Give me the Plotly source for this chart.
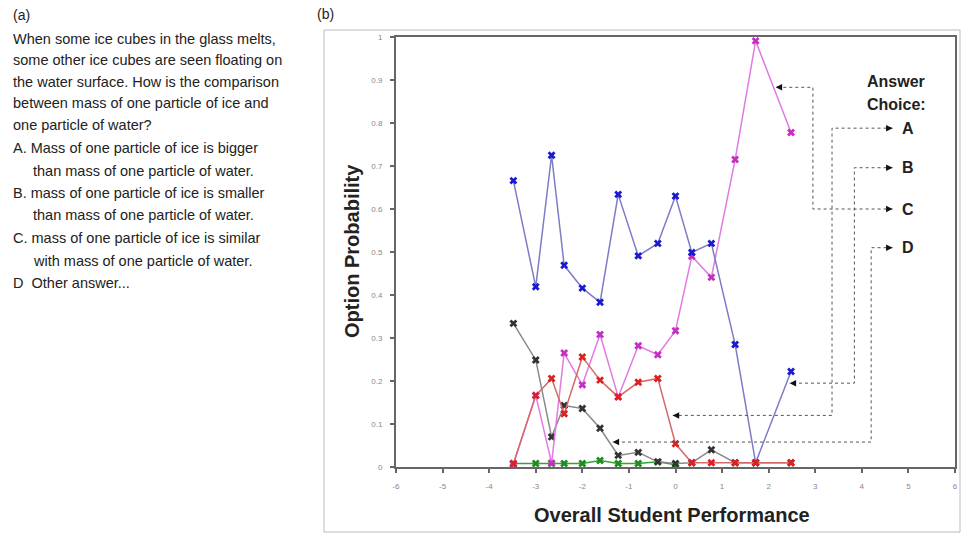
import plotly.graph_objects as go

# ---------------- data ----------------
x_perf = [-3.48, -3.0, -2.66, -2.39, -2.0, -1.62, -1.23, -0.8, -0.38, 0.0, 0.35, 0.77, 1.28, 1.72, 2.48]
opt_B = [0.666, 0.419, 0.725, 0.469, 0.416, 0.383, 0.634, 0.491, 0.520, 0.630, 0.499, 0.520, 0.285, 0.01, 0.222]
opt_C = [0.006, 0.167, 0.009, 0.265, 0.191, 0.308, 0.163, 0.282, 0.261, 0.317, 0.49, 0.441, 0.715, 0.991, 0.778]
opt_A = [0.008, 0.166, 0.206, 0.124, 0.256, 0.202, 0.163, 0.197, 0.206, 0.054, 0.01, 0.01, 0.01, 0.01, 0.01]
opt_D = [0.334, 0.249, 0.070, 0.143, 0.136, 0.090, 0.027, 0.034, 0.012, 0.008, 0.01, 0.040, 0.01, 0.01, 0.01]
opt_other = [0.008, 0.008, 0.008, 0.008, 0.008, 0.015, 0.008, 0.008, 0.012, 0.005]

x_ticks = [-6, -5, -4, -3, -2, -1, 0, 1, 2, 3, 4, 5, 6]
x_ticklabels = ["-6", "-5", "-4", "-3", "-2", "-1", "0", "1", "2", "3", "4", "5", "6"]
y_ticks = [0, 0.1, 0.2, 0.3, 0.4, 0.5, 0.6, 0.7, 0.8, 0.9, 1]
y_ticklabels = ["0", "0.1", "0.2", "0.3", "0.4", "0.5", "0.6", "0.7", "0.8", "0.9", "1"]

question_lines = [
    "When some ice cubes in the glass melts,",
    "some other ice cubes are seen floating on",
    "the water surface. How is the comparison",
    "between mass of one particle of ice and",
    "one particle of water?",
    "A. Mass of one particle of ice is bigger",
    "than mass of one particle of water.",
    "B. mass of one particle of ice is smaller",
    "than mass of one particle of water.",
    "C. mass of one particle of ice is similar",
    "with mass of one particle of water.",
    "D  Other answer...",
]
question_indent = [0, 0, 0, 0, 0, 0, 1, 0, 1, 0, 1, 0]
question_ypix = [39, 60, 82, 103, 125, 148, 171, 193, 215, 238, 261, 283]

# ---------------- layout geometry ----------------
W, H = 962, 533
ML, MR, MT, MB = 396, 7, 37, 66
PW, PH = W - ML - MR, H - MT - MB


def px(xp):
    return (xp - ML) / PW


def py(yp):
    return (H - MB - yp) / PH


fig = go.Figure()

series = [
    ("other", opt_other, "#3aa03a", "#1e8f1e"),
    ("D", opt_D, "#8a8a8a", "#333333"),
    ("C", opt_C, "#e27ae2", "#c62ec6"),
    ("B", opt_B, "#7c7cc6", "#1a1ad0"),
    ("A", opt_A, "#d46a6a", "#dd2020"),
]
for name, vals, lc, mc in series:
    fig.add_trace(go.Scatter(
        x=x_perf[:len(vals)], y=vals, mode="lines+markers", name=name,
        line=dict(color=lc, width=1.5),
        marker=dict(symbol="x", size=7, color=mc),
        showlegend=False, hoverinfo="skip",
    ))

# ---------------- connectors (answer-choice key) ----------------
dot_col = "#555555"
connectors = {
    "A": [(4.66, 0.788), (3.36, 0.788), (3.36, 0.120), (-0.06, 0.120)],
    "B": [(4.66, 0.696), (3.84, 0.696), (3.84, 0.195), (2.45, 0.195)],
    "C": [(4.66, 0.600), (2.95, 0.600), (2.95, 0.883), (2.15, 0.883)],
    "D": [(4.66, 0.510), (4.20, 0.510), (4.20, 0.058), (-1.35, 0.058)],
}
shapes = []
annotations = []
for key, pts in connectors.items():
    path = "M " + " L ".join(f"{a},{b}" for a, b in pts)
    shapes.append(dict(type="path", path=path, xref="x", yref="y",
                       line=dict(color=dot_col, width=1, dash="dot")))
    annotations.append(dict(x=pts[0][0], y=pts[0][1], xref="x", yref="y", text="",
                            showarrow=True, ax=-7, ay=0, arrowhead=2, arrowsize=1.3,
                            arrowwidth=1, arrowcolor="#111"))
    annotations.append(dict(x=pts[-1][0], y=pts[-1][1], xref="x", yref="y", text="",
                            showarrow=True, ax=7, ay=0, arrowhead=2, arrowsize=1.3,
                            arrowwidth=1, arrowcolor="#111"))
    annotations.append(dict(x=4.82, y=pts[0][1], xref="x", yref="y", text=f"<b>{key}</b>",
                            showarrow=False, xanchor="left", yanchor="middle",
                            font=dict(family="Liberation Sans, Arial", size=16, color="#222")))

annotations.append(dict(x=4.74, y=py(82), xref="x", yref="paper", text="<b>Answer</b>",
                        showarrow=False, xanchor="center", yanchor="middle",
                        font=dict(family="Liberation Sans, Arial", size=16, color="#222")))
annotations.append(dict(x=4.74, y=py(105), xref="x", yref="paper", text="<b>Choice:</b>",
                        showarrow=False, xanchor="center", yanchor="middle",
                        font=dict(family="Liberation Sans, Arial", size=16, color="#222")))

annotations.append(dict(x=px(352), y=py(251), xref="paper", yref="paper",
                        text="<b>Option Probability</b>", textangle=-90, showarrow=False,
                        xanchor="center", yanchor="middle",
                        font=dict(family="Liberation Sans, Arial", size=20, color="#222")))
annotations.append(dict(x=px(672), y=py(515), xref="paper", yref="paper",
                        text="<b>Overall Student Performance</b>", showarrow=False,
                        xanchor="center", yanchor="middle",
                        font=dict(family="Liberation Sans, Arial", size=20, color="#222")))

annotations.append(dict(x=px(315), y=py(14), xref="paper", yref="paper", text="(b)",
                        showarrow=False, xanchor="left", yanchor="middle",
                        font=dict(family="Liberation Sans, Arial", size=14, color="#222")))
annotations.append(dict(x=px(11), y=py(15), xref="paper", yref="paper", text="(a)",
                        showarrow=False, xanchor="left", yanchor="middle",
                        font=dict(family="Liberation Sans, Arial", size=14, color="#222")))
for txt, ind, yp in zip(question_lines, question_indent, question_ypix):
    annotations.append(dict(x=px(11 + 20 * ind), y=py(yp), xref="paper", yref="paper", text=txt,
                            showarrow=False, xanchor="left", yanchor="middle",
                            font=dict(family="Liberation Sans, Arial", size=14.5, color="#222")))

shapes.append(dict(type="rect", xref="paper", yref="paper",
                   x0=px(324), x1=px(960), y0=py(532), y1=py(30),
                   line=dict(color="#bbbbbb", width=1), layer="below"))

fig.update_layout(
    width=W, height=H,
    margin=dict(l=ML, r=MR, t=MT, b=MB, autoexpand=False),
    paper_bgcolor="white", plot_bgcolor="white",
    shapes=shapes, annotations=annotations,
    font=dict(family="Liberation Sans, Arial"),
)
fig.update_xaxes(range=[-6, 6], tickvals=x_ticks, ticktext=x_ticklabels,
                 showgrid=False, zeroline=False, showline=True, linecolor="#666", linewidth=2,
                 mirror=True, ticks="outside", ticklen=4, tickcolor="#666", tickwidth=1.5,
                 tickfont=dict(size=8, color="#888"), ticklabelstandoff=6)
fig.update_yaxes(range=[0, 1], tickvals=y_ticks, ticktext=y_ticklabels,
                 showgrid=False, zeroline=False, showline=True, linecolor="#666", linewidth=2,
                 mirror=True, ticks="outside", ticklen=4, tickcolor="#666", tickwidth=1.5,
                 tickfont=dict(size=8, color="#888"), ticklabelstandoff=6)

fig.write_html("out.html", config={"displayModeBar": False},
               post_script="document.body.style.margin='0';document.body.style.overflow='hidden';")
